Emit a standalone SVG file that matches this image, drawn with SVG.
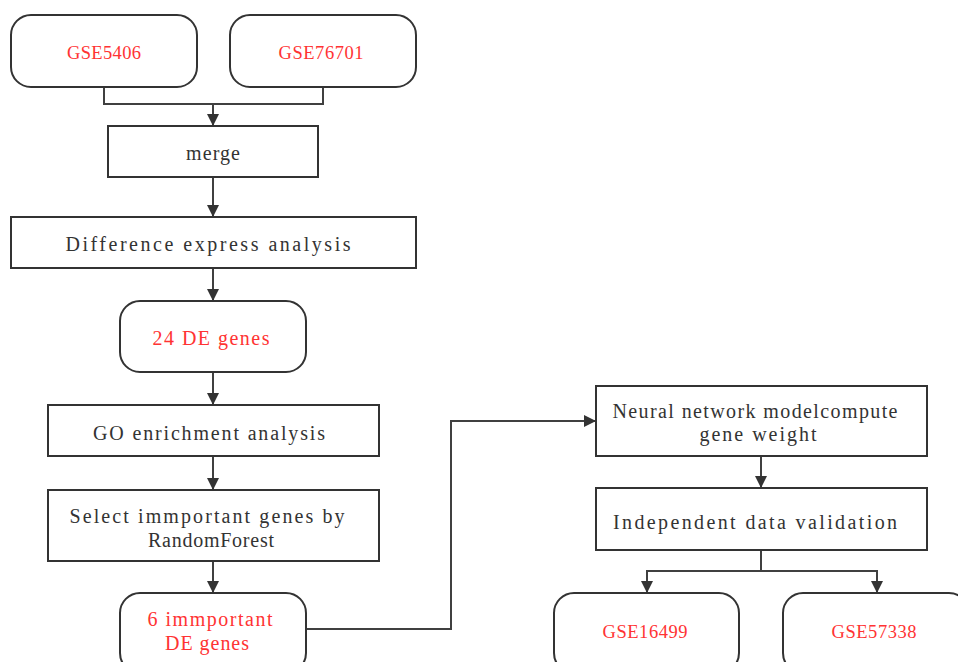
<svg xmlns="http://www.w3.org/2000/svg" width="958" height="662" viewBox="0 0 958 662">
  <style>
    .box { fill: #ffffff; stroke: #333333; stroke-width: 2; }
    .link { fill: none; stroke: #404040; stroke-width: 2; }
    .lbl { font-family: "Liberation Serif", "DejaVu Serif", serif; font-size: 20px; fill: #333333; text-anchor: middle; }
    .red { fill: #ff3333; }
    .id { font-size: 18.5px; }
  </style>
  <defs>
    <marker id="arrow" markerUnits="userSpaceOnUse" markerWidth="12" markerHeight="12" viewBox="0 0 12 12" refX="12" refY="6" orient="auto">
      <path d="M0,0 L12,6 L0,12 Z" fill="#333333"/>
    </marker>
  </defs>
  <rect width="958" height="662" fill="#ffffff"/>

  <!-- connectors -->
  <g id="connectors">
    <path class="link" d="M104,87 V104 H323 V87"/>
    <path class="link" d="M213,104 V126" marker-end="url(#arrow)"/>
    <path class="link" d="M213,177 V217" marker-end="url(#arrow)"/>
    <path class="link" d="M213,268 V301" marker-end="url(#arrow)"/>
    <path class="link" d="M213,372 V405" marker-end="url(#arrow)"/>
    <path class="link" d="M213,456 V490" marker-end="url(#arrow)"/>
    <path class="link" d="M213,561 V593" marker-end="url(#arrow)"/>
    <path class="link" d="M306,629 H451 V421 H596" marker-end="url(#arrow)"/>
    <path class="link" d="M761,456 V488" marker-end="url(#arrow)"/>
    <path class="link" d="M761,550 V571"/>
    <path class="link" d="M761,571 H647 V593" marker-end="url(#arrow)"/>
    <path class="link" d="M761,571 H877 V593" marker-end="url(#arrow)"/>
  </g>

  <g id="gse5406">
    <rect class="box" x="11" y="15" width="186" height="72" rx="20"/>
    <text class="lbl red id" x="104" y="59" textLength="74" lengthAdjust="spacing">GSE5406</text>
  </g>
  <g id="gse76701">
    <rect class="box" x="230" y="15" width="186" height="72" rx="20"/>
    <text class="lbl red id" x="321" y="59" textLength="85" lengthAdjust="spacing">GSE76701</text>
  </g>
  <g id="merge">
    <rect class="box" x="108" y="126" width="210" height="51"/>
    <text class="lbl" x="213" y="160" textLength="54" lengthAdjust="spacing">merge</text>
  </g>
  <g id="difference">
    <rect class="box" x="11" y="217" width="405" height="51"/>
    <text class="lbl" x="208" y="251" textLength="285" lengthAdjust="spacing">Difference express analysis</text>
  </g>
  <g id="de24">
    <rect class="box" x="120" y="301" width="186" height="71" rx="20"/>
    <text class="lbl red" x="211" y="345" textLength="117" lengthAdjust="spacing">24 DE genes</text>
  </g>
  <g id="go">
    <rect class="box" x="48" y="405" width="331" height="51"/>
    <text class="lbl" x="209" y="440" textLength="232" lengthAdjust="spacing">GO enrichment analysis</text>
  </g>
  <g id="select">
    <rect class="box" x="48" y="490" width="331" height="71"/>
    <text class="lbl" x="207" y="523" textLength="275" lengthAdjust="spacing">Select immportant genes by</text>
    <text class="lbl" x="211" y="547" textLength="126" lengthAdjust="spacing">RandomForest</text>
  </g>
  <g id="important6">
    <rect class="box" x="120" y="593" width="186" height="80" rx="20"/>
    <text class="lbl red" x="210" y="626" textLength="125" lengthAdjust="spacing">6 immportant</text>
    <text class="lbl red" x="207" y="650" textLength="84" lengthAdjust="spacing">DE genes</text>
  </g>
  <g id="neural">
    <rect class="box" x="596" y="386" width="331" height="70"/>
    <text class="lbl" x="755" y="418" textLength="285" lengthAdjust="spacing">Neural network modelcompute</text>
    <text class="lbl" x="758" y="441" textLength="117" lengthAdjust="spacing">gene weight</text>
  </g>
  <g id="validation">
    <rect class="box" x="596" y="488" width="331" height="62"/>
    <text class="lbl" x="755" y="529" textLength="284" lengthAdjust="spacing">Independent data validation</text>
  </g>
  <g id="gse16499">
    <rect class="box" x="554" y="593" width="185" height="80" rx="20"/>
    <text class="lbl red id" x="645" y="638" textLength="85" lengthAdjust="spacing">GSE16499</text>
  </g>
  <g id="gse57338">
    <rect class="box" x="783" y="593" width="186" height="80" rx="20"/>
    <text class="lbl red id" x="874" y="638" textLength="85" lengthAdjust="spacing">GSE57338</text>
  </g>
</svg>
